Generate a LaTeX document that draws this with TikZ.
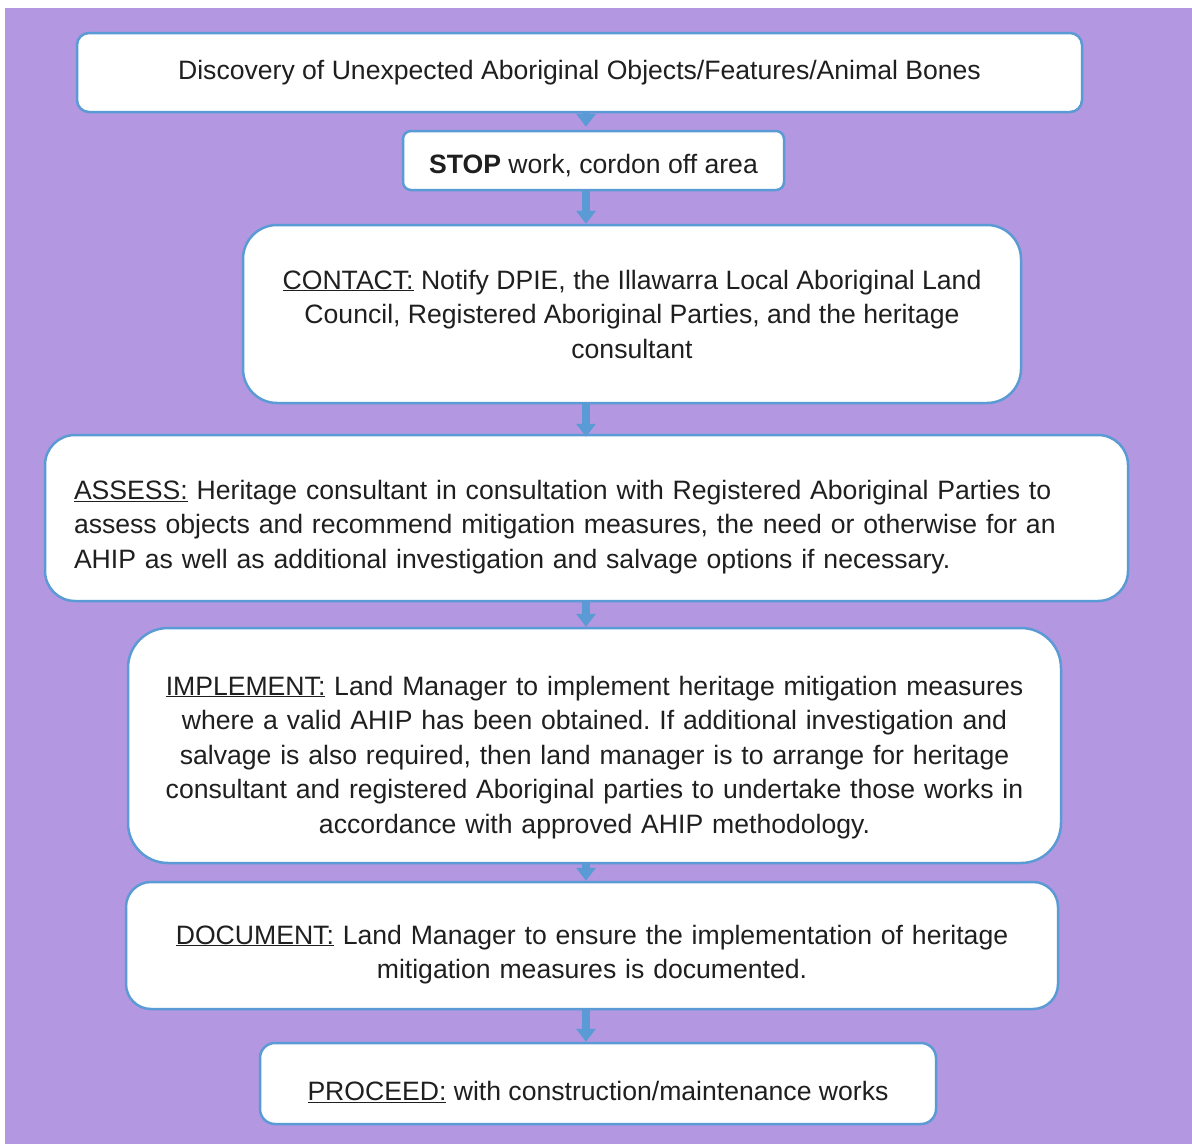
\documentclass[tikz,border=0pt]{standalone}
\usepackage{fontspec}
\setmainfont{Liberation Sans}
\usetikzlibrary{arrows.meta}
\frenchspacing

\definecolor{backpurple}{RGB}{179,151,224}
\definecolor{boxblue}{RGB}{91,155,213}
\definecolor{inktext}{RGB}{31,31,31}

\tikzset{
  stepbox/.style={draw=boxblue, line width=2.5pt, fill=white, rounded corners=#1,
    align=center, inner sep=0pt, text=inktext,
    font=\fontsize{26.6}{34.5}\selectfont},
  stepbox/.default=12pt,
  textdrop/.style={execute at begin node={\rule{0pt}{#1}}},
  flow/.style={draw=boxblue, line width=8pt,
    -{Triangle[width=19pt,length=13pt,fill=boxblue]}}
}

\begin{document}
\begin{tikzpicture}[x=1pt,y=-1pt]
   \useasboundingbox (0,0) rectangle (1192,1144);
   \fill[backpurple] (5,8) rectangle (1192,1144);

   \node[stepbox=12pt, minimum width=1005pt, minimum height=79pt] (discover) at (579.5,72.5)
     {Discovery of Unexpected Aboriginal Objects/Features/Animal Bones};
   \node[stepbox=8pt, textdrop=29pt, minimum width=381pt, minimum height=59pt] (stop) at (593.5,160.5)
     {\textbf{STOP} work, cordon off area};
   \node[stepbox=34pt, minimum width=778pt, minimum height=178pt] (contact) at (632,314)
     {\underline{CONTACT:} Notify DPIE, the Illawarra Local Aboriginal Land\\
      Council, Registered Aboriginal Parties, and the heritage\\
      consultant};
   \node[stepbox=30pt, textdrop=37pt, minimum width=1083pt, minimum height=166pt,
         text width=1025pt, align=left] (assess) at (586.5,518)
     {\underline{ASSESS:} Heritage consultant in consultation with Registered Aboriginal Parties to\\
      assess objects and recommend mitigation measures, the need or otherwise for an\\
      AHIP as well as additional investigation and salvage options if necessary.};
   \node[stepbox=40pt, textdrop=43pt, minimum width=933pt, minimum height=235pt,
         text width=880pt] (implement) at (594.5,745.5)
     {\underline{IMPLEMENT:} Land Manager to implement heritage mitigation measures\\
      where a valid AHIP has been obtained. If additional investigation and\\
      salvage is also required, then land manager is to arrange for heritage\\
      consultant and registered Aboriginal parties to undertake those works in\\
      accordance with approved AHIP methodology.};
   \node[stepbox=25pt, textdrop=37pt, minimum width=932pt, minimum height=127pt,
         text width=880pt] (document) at (592,945.5)
     {\underline{DOCUMENT:} Land Manager to ensure the implementation of heritage\\
      mitigation measures is documented.};
   \node[stepbox=15pt, textdrop=37pt, minimum width=676pt, minimum height=81pt] (proceed) at (598,1083.5)
     {\underline{PROCEED:} with construction/maintenance works};

   % arrows between the steps
   \coordinate (ax) at (586,0);
   \draw[flow] (discover.south -| ax) -- ([yshift=3pt]stop.north -| ax);
   \draw[flow] (stop.south -| ax) -- (contact.north -| ax);
   \draw[flow] (contact.south -| ax) -- ([yshift=-3pt]assess.north -| ax);
   \draw[flow] (assess.south -| ax) -- (implement.north -| ax);
   \draw[flow] (implement.south -| ax) -- (document.north -| ax);
   \draw[flow] (document.south -| ax) -- (proceed.north -| ax);
\end{tikzpicture}
\end{document}
